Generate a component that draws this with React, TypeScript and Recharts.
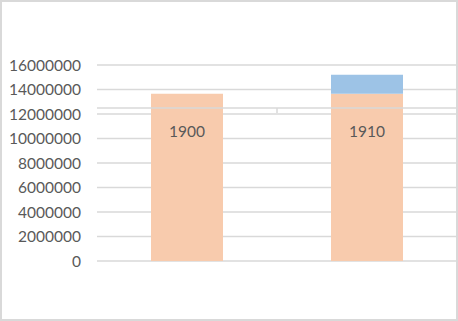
import { Bar, BarChart, CartesianGrid, LabelList, ReferenceLine, XAxis, YAxis } from "recharts";

// categories and stacked series
const CATEGORIES = ["1900", "1910"];
const BASE = [13650000, 13650000];
const EXTRA = [0, 1550000];
const Y_TICKS = [0, 2000000, 4000000, 6000000, 8000000, 10000000, 12000000, 14000000, 16000000];
// the category axis crosses the value axis here (as in the source sheet)
const AXIS_CROSS = 12500000;

const data = CATEGORIES.map((name, i) => ({ name, base: BASE[i], extra: EXTRA[i] }));

const TEXT = "#595959";
const GRID = "#D9D9D9";
const FONT = "Lato, sans-serif";

// category label, drawn just under the crossing axis line
function CategoryLabel(props: any) {
  const { x, y, width, height, index } = props;
  const v = BASE[index];
  const bottom = y + height;
  const axisY = bottom - (height * AXIS_CROSS) / v;
  const cx = x + width / 2;
  return (
    <g>
      <text
        x={cx}
        y={axisY + 23}
        textAnchor="middle"
        dominantBaseline="central"
        fill={TEXT}
        fontSize={15.5}
        fontFamily={FONT}
      >
        {CATEGORIES[index]}
      </text>
      {index === 0 && (
        <line x1={cx + width * 1.25} x2={cx + width * 1.25} y1={axisY} y2={axisY + 5} stroke={GRID} strokeWidth={1.5} />
      )}
    </g>
  );
}

export default function App() {
  return (
    <div style={{ position: "absolute", left: 0, top: 0, width: 458, height: 321 }}>
      <BarChart
        width={458}
        height={321}
        data={data}
        margin={{ top: 65, right: 1, bottom: 60, left: 0 }}
        barCategoryGap="30%"
      >
        <CartesianGrid vertical={false} stroke={GRID} strokeWidth={1.5} />
        <XAxis dataKey="name" hide />
        <YAxis
          type="number"
          domain={[0, 16000000]}
          ticks={Y_TICKS}
          width={97}
          axisLine={false}
          tickLine={false}
          tickMargin={10}
          interval={0}
          tick={{ fill: TEXT, fontSize: 15.5, fontFamily: FONT }}
        />
        <Bar dataKey="base" stackId="a" fill="#F8CBAD" isAnimationActive={false}>
          <LabelList dataKey="base" content={<CategoryLabel />} />
        </Bar>
        <Bar dataKey="extra" stackId="a" fill="#9DC3E6" isAnimationActive={false} />
        <ReferenceLine y={AXIS_CROSS} stroke={GRID} strokeWidth={1.5} />
      </BarChart>
      <div
        style={{
          position: "absolute",
          inset: 0,
          border: "2px solid " + GRID,
          boxSizing: "border-box",
          pointerEvents: "none",
        }}
      />
    </div>
  );
}
